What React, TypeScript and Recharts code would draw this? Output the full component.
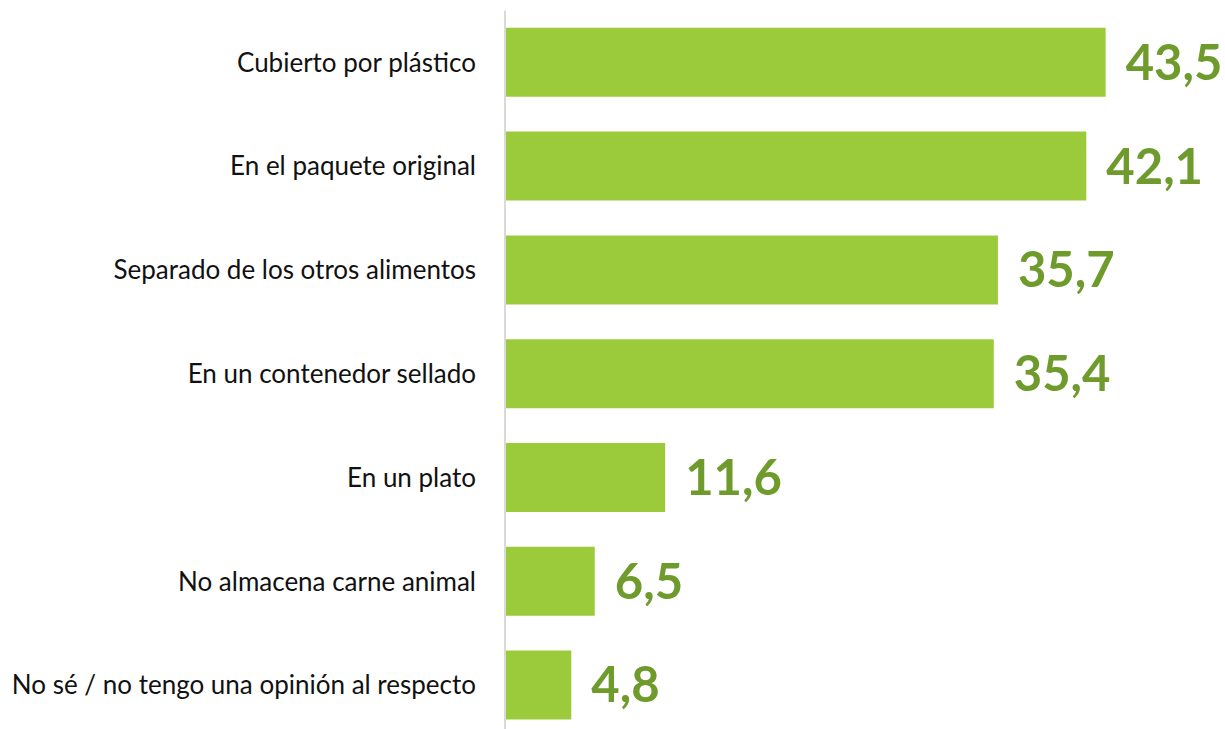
import { BarChart, Bar, XAxis, YAxis, LabelList } from "recharts";

const categories = [
  "Cubierto por plástico",
  "En el paquete original",
  "Separado de los otros alimentos",
  "En un contenedor sellado",
  "En un plato",
  "No almacena carne animal",
  "No sé / no tengo una opinión al respecto",
];

const values = [43.5, 42.1, 35.7, 35.4, 11.6, 6.5, 4.8];

const data = categories.map((name, i) => ({ name, value: values[i] }));

const BAR_COLOR = "#9BCB3B";
const LABEL_COLOR = "#6E9B2C";

export default function App() {
  return (
    <div style={{ position: "fixed", left: 0, top: 0, width: 1225, height: 729, overflow: "hidden", background: "#fff" }}>
      <BarChart
        width={1225}
        height={740}
        data={data}
        layout="vertical"
        margin={{ top: 10.5, right: 2, bottom: 3, left: 0 }}
        barCategoryGap="16.7%"
      >
        <XAxis type="number" domain={[0, 52]} hide />
        <YAxis
          type="category"
          dataKey="name"
          width={505}
          tickLine={false}
          tickSize={0}
          tickMargin={29}
          axisLine={{ stroke: "#D9D9D9", strokeWidth: 2 }}
          tick={{ fontSize: 26, fill: "#111", fontFamily: "Lato" }}
        />
        <Bar dataKey="value" fill={BAR_COLOR} isAnimationActive={false}>
          <LabelList
            dataKey="value"
            position="right"
            offset={20}
            formatter={(v: number) => v.toFixed(1).replace(".", ",")}
            style={{ fontSize: 49, fontWeight: 700, fill: LABEL_COLOR, fontFamily: "Lato" }}
          />
        </Bar>
      </BarChart>
    </div>
  );
}
